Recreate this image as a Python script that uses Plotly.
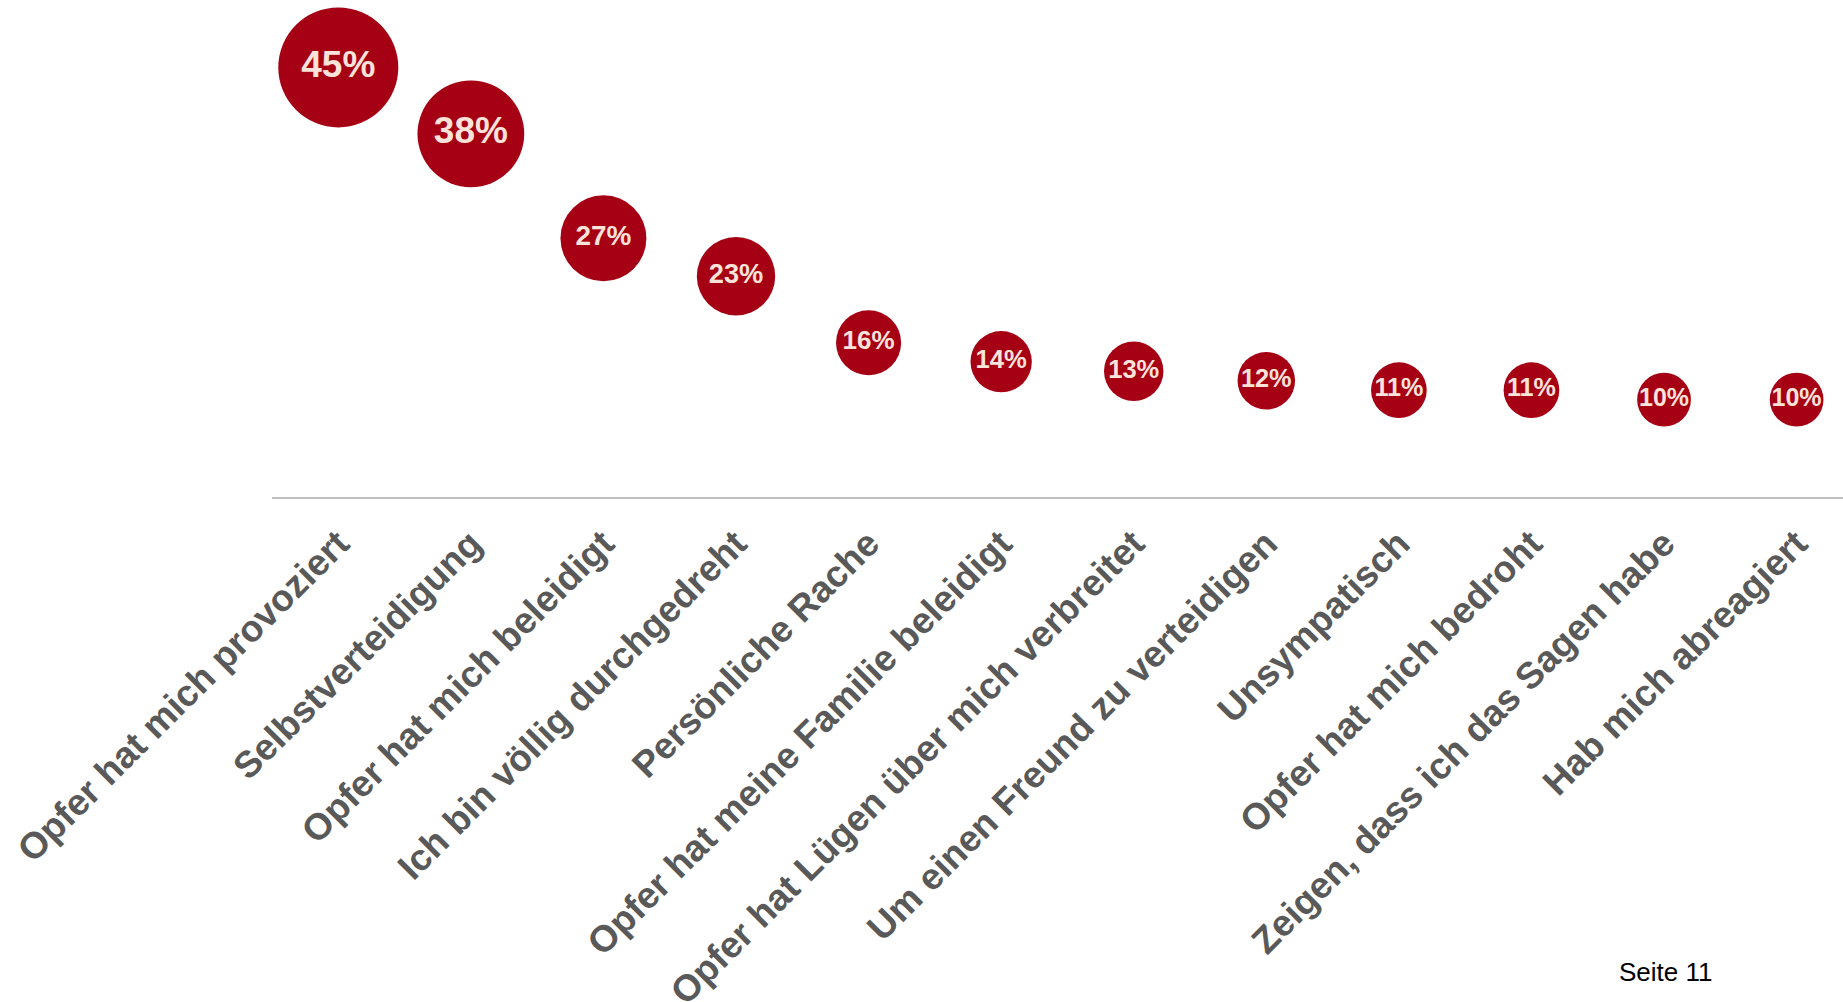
import plotly.graph_objects as go

categories = [
    "Opfer hat mich provoziert",
    "Selbstverteidigung",
    "Opfer hat mich beleidigt",
    "Ich bin völlig durchgedreht",
    "Persönliche Rache",
    "Opfer hat meine Familie beleidigt",
    "Opfer hat Lügen über mich verbreitet",
    "Um einen Freund zu verteidigen",
    "Unsympatisch",
    "Opfer hat mich bedroht",
    "Zeigen, dass ich das Sagen habe",
    "Hab mich abreagiert",
]
values = [45, 38, 27, 23, 16, 14, 13, 12, 11, 11, 10, 10]
value_labels = [f"{v}%" for v in values]
page_label = "Seite 11"

W, H = 1843, 1002
BUBBLE = "#A50013"
TEXT_IN = "#FBE3DA"
LABEL = "#595959"
FONT = "Liberation Sans, Arial, sans-serif"

sizes = [34.8 + 1.894 * v for v in values]
text_sizes = [37 if v >= 30 else 23.3 + 0.17 * v for v in values]

fig = go.Figure(
    go.Scatter(
        x=categories,
        y=values,
        mode="markers+text",
        text=value_labels,
        textposition="middle center",
        textfont=dict(family=FONT, size=text_sizes, color=TEXT_IN, weight="bold"),
        marker=dict(size=sizes, sizemode="diameter", color=BUBBLE, line=dict(width=0), opacity=1),
        cliponaxis=False,
        hoverinfo="skip",
    )
)

fig.update_layout(
    template="none",
    width=W,
    height=H,
    margin=dict(l=272, r=0, t=0, b=505, autoexpand=False),
    paper_bgcolor="white",
    plot_bgcolor="white",
    showlegend=False,
    xaxis=dict(
        type="category",
        range=[-0.5, len(categories) - 0.65],
        automargin=False,
        showgrid=False,
        zeroline=False,
        showline=True,
        linecolor="#C0C0C0",
        linewidth=2,
        ticks="",
        tickangle=-45,
        ticklabelstandoff=8,
        tickfont=dict(family=FONT, size=37, color=LABEL, weight="bold"),
        fixedrange=True,
    ),
    yaxis=dict(
        range=[-0.25, 52.1],
        automargin=False,
        visible=False,
        showgrid=False,
        zeroline=False,
        fixedrange=True,
    ),
    annotations=[
        dict(
            text=page_label,
            xref="paper",
            yref="paper",
            x=(1617 - 272) / (W - 272),
            y=1 - 972 / 497,
            xanchor="left",
            yanchor="middle",
            showarrow=False,
            font=dict(family=FONT, size=26, color="black"),
        )
    ],
)

fig.write_html(
    "out.html",
    config={"displayModeBar": False},
    post_script="document.body.style.margin='0';document.body.style.overflow='hidden';",
)
